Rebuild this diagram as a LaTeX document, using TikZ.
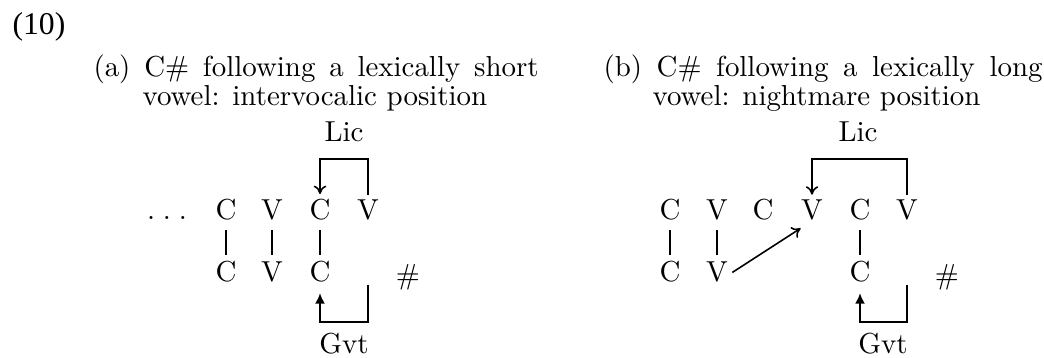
\documentclass[tikz,border=0pt]{standalone}
\usepackage{fontspec}
\newfontfamily\timesfont{Liberation Serif}
\usetikzlibrary{arrows.meta}
\begin{document}
\begin{tikzpicture}[x=0.3788pt,y=-0.3788pt,
  seg/.style={anchor=base,inner sep=0pt,font=\fontsize{10.95}{13.6}\selectfont},
  ttl/.style={anchor=base west,inner sep=0pt,font=\fontsize{10.95}{13.6}\selectfont},
  bar/.style={line width=0.6pt,shorten <=3.4pt,shorten >=2.4pt},
  lic/.style={line width=0.6pt,-{To[length=3.2pt,width=4.8pt]}},
  gvt/.style={line width=0.6pt,-{Latex[length=4pt,width=3.8pt]}}]
\useasboundingbox (0,0) rectangle (1044,358);
% example number
\node[anchor=base west,inner sep=0pt,font=\timesfont\fontsize{12}{14}\selectfont] (num) at (12,35) {(10)};
% titles
\node[ttl] (ta1) at (93,77) {\makebox[168.6pt][s]{(a) C\# following a lexically short}};
\node[ttl] (ta2) at (142,106) {vowel: intervocalic position};
\node[ttl] (tb1) at (603,77) {\makebox[166.3pt][s]{(b) C\# following a lexically long}};
\node[ttl] (tb2) at (652,106) {vowel: nightmare position};
% ---------- (a) ----------
\node[seg] (licA) at (344,142) {Lic};
\node[seg] (dots) at (167,220) {.\kern0.27em.\kern0.27em.};
\node[seg] (a1) at (226,220) {C};
\node[seg] (a2) at (272,220) {V};
\node[seg] (a3) at (320,220) {C};
\node[seg] (a4) at (368,220) {V};
\node[seg] (ab1) at (226,282) {C};
\node[seg] (ab2) at (272,282) {V};
\node[seg] (ab3) at (320,282) {C};
\node[seg] (hashA) at (408,285) {\#};
\node[seg] (gvtA) at (344,354) {Gvt};
\coordinate (alicy) at (0,159);
\coordinate (agvty) at (0,322);
\coordinate (agvts) at (0,285);
\draw[bar] (a1.south) -- (ab1.north);
\draw[bar] (a2.south) -- (ab2.north);
\draw[bar] (a3.south) -- (ab3.north);
\draw[lic] ([yshift=1.9pt]a4.north) -- (a4 |- alicy) -- (a3 |- alicy) -- ([yshift=1.9pt]a3.north);
\draw[gvt] (a4 |- agvts) -- (a4 |- agvty) -- (ab3 |- agvty) -- ([yshift=-3.8pt]ab3.south);
% ---------- (b) ----------
\node[seg] (licB) at (858,142) {Lic};
\node[seg] (b1) at (670,220) {C};
\node[seg] (b2) at (717,220) {V};
\node[seg] (b3) at (763,220) {C};
\node[seg] (b4) at (812,220) {V};
\node[seg] (b5) at (860,220) {C};
\node[seg] (b6) at (907,220) {V};
\node[seg] (bb1) at (670,282) {C};
\node[seg] (bb2) at (717,282) {V};
\node[seg] (bb5) at (860,282) {C};
\node[seg] (hashB) at (947,285) {\#};
\node[seg] (gvtB) at (883,354) {Gvt};
\coordinate (blicy) at (0,159);
\coordinate (bgvty) at (0,322);
\coordinate (bgvts) at (0,285);
\draw[bar] (b1.south) -- (bb1.north);
\draw[bar] (b2.south) -- (bb2.north);
\draw[bar] (b5.south) -- (bb5.north);
\draw[lic] ([xshift=1.5pt]bb2.east) -- ([yshift=-2.7pt]b4.south west);
\draw[lic] ([yshift=1.9pt]b6.north) -- (b6 |- blicy) -- (b4 |- blicy) -- ([yshift=1.9pt]b4.north);
\draw[gvt] (b6 |- bgvts) -- (b6 |- bgvty) -- (bb5 |- bgvty) -- ([yshift=-3.8pt]bb5.south);
\end{tikzpicture}
\end{document}
